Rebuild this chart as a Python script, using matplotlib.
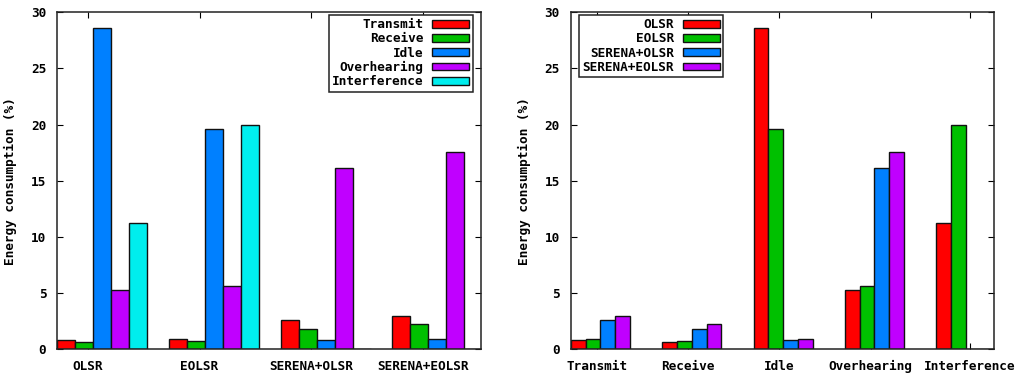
import matplotlib
matplotlib.use("Agg")
import matplotlib.pyplot as plt

protocols = ["OLSR", "EOLSR", "SERENA+OLSR", "SERENA+EOLSR"]
states = ["Transmit", "Receive", "Idle", "Overhearing", "Interference"]

# energy consumption (%) per protocol, one list per state
transmit = [0.80, 0.92, 2.55, 2.97]
receive = [0.60, 0.74, 1.75, 2.26]
idle = [28.57, 19.57, 0.80, 0.92]
overhearing = [5.26, 5.61, 16.13, 17.55]
interference = [11.26, 19.96, 0.0, 0.0]

yticks = [0, 5, 10, 15, 20, 25, 30]
ylabel = "Energy consumption (%)"

state_colors = ["#ff0000", "#00c000", "#0080ff", "#c000ff", "#00eeee"]
proto_colors = ["#ff0000", "#00c000", "#0080ff", "#c000ff"]

FONT = "DejaVu Sans Mono"
FS = 9.2
plt.rcParams["font.family"] = [FONT]
plt.rcParams["font.weight"] = "bold"

fig = plt.figure(figsize=(10.24, 3.78), dpi=100)
ax1 = fig.add_axes([57.3 / 1024, 29 / 378, 423.4 / 1024, 336.7 / 378])
ax2 = fig.add_axes([571 / 1024, 29 / 378, 423 / 1024, 336.7 / 378])

data_by_state = [transmit, receive, idle, overhearing, interference]
W = 0.1615


def style(ax, xlim):
    ax.set_xlim(*xlim)
    ax.set_ylim(0, 30)
    ax.set_yticks(yticks)
    ax.set_yticklabels([str(v) for v in yticks], fontsize=FS, fontweight="bold")
    ax.tick_params(axis="both", direction="in", top=True, right=True,
                   length=4, width=0.8, colors="black")
    ax.tick_params(axis="y", pad=8)
    ax.tick_params(axis="x", pad=8)
    for s in ax.spines.values():
        s.set_linewidth(1.1)
        s.set_color("#222222")
        s.set_zorder(3)
    ax.set_ylabel(ylabel, fontsize=FS, fontweight="bold", labelpad=10)


# Left chart: groups = protocols, bars = states
for si, (vals, col) in enumerate(zip(data_by_state, state_colors)):
    xs = [gi - 0.2735 + si * W for gi in range(len(protocols))]
    ax1.bar(xs, vals, width=W, align="edge", color=col, edgecolor="#111111",
            linewidth=1.0, label=states[si], zorder=2)
style(ax1, (-0.2735, 3.518))
ax1.set_xticks(range(len(protocols)))
ax1.set_xticklabels(protocols, fontsize=FS, fontweight="bold")

# Right chart: groups = states, bars = protocols
for pi in range(len(protocols)):
    vals = [d[pi] for d in data_by_state]
    xs = [gi - 0.2815 + pi * W for gi in range(len(states))]
    ax2.bar(xs, vals, width=W, align="edge", color=proto_colors[pi],
            edgecolor="#111111", linewidth=1.0, label=protocols[pi], zorder=2)
style(ax2, (-0.2815, 4.352))
ax2.set_xticks([0, 1, 2, 3, 4.09])
ax2.set_xticklabels(states, fontsize=FS, fontweight="bold")


def legend(ax, anchor, loc):
    leg = ax.legend(loc=loc, bbox_to_anchor=anchor, markerfirst=False,
                    fancybox=False, framealpha=1, edgecolor="#222222",
                    prop={"family": FONT, "weight": "bold", "size": FS},
                    handlelength=2.9, handleheight=0.55, handletextpad=0.7,
                    labelspacing=0.1, borderpad=0.25, borderaxespad=0.0)
    leg.get_frame().set_linewidth(1.1)
    leg.set_zorder(5)
    return leg


legend(ax1, (0.981, 0.992), "upper right")
legend(ax2, (0.019, 0.992), "upper left")

fig.savefig("out.png", dpi=100)
